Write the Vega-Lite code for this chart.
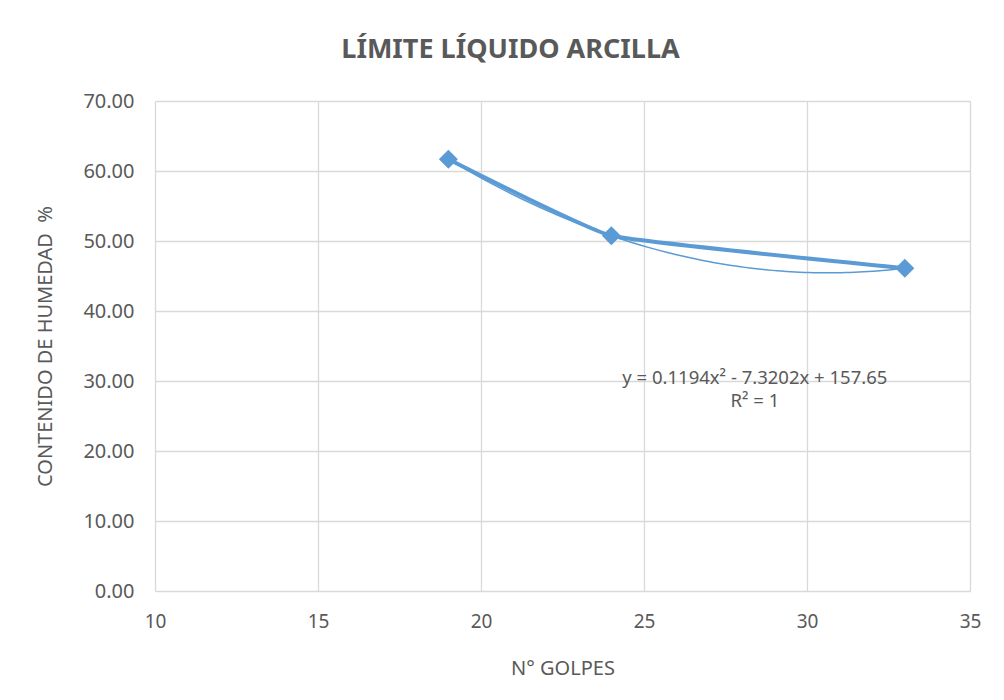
{
  "$schema": "https://vega.github.io/schema/vega-lite/v6.json",
  "autosize": {"type": "none"},
  "width": 815,
  "height": 490,
  "padding": {"left": 155, "top": 101, "right": 34, "bottom": 109},
  "background": "white",
  "title": {
    "text": "LÍMITE LÍQUIDO ARCILLA",
    "font": "Noto Sans",
    "fontSize": 27,
    "fontWeight": "bold",
    "color": "#595959",
    "anchor": "middle",
    "dx": -52,
    "offset": 27
  },
  "config": {
    "view": {"stroke": null},
    "axis": {
      "labelFont": "Noto Sans",
      "titleFont": "Noto Sans",
      "labelColor": "#595959",
      "titleColor": "#595959",
      "labelFontSize": 19,
      "titleFontSize": 20,
      "titleFontWeight": "normal",
      "gridColor": "#d9d9d9",
      "gridWidth": 1.3,
      "ticks": false,
      "domain": false
    }
  },
  "data": {
    "values": [
      {"n": 19, "h": 61.67},
      {"n": 24, "h": 50.74},
      {"n": 33, "h": 46.11}
    ]
  },
  "layer": [
    {
      "transform": [
        {"regression": "h", "on": "n", "method": "poly", "order": 2, "extent": [19, 33]}
      ],
      "mark": {"type": "line", "color": "#5B9BD5", "strokeWidth": 1.5},
      "encoding": {
        "x": {"field": "n", "type": "quantitative"},
        "y": {"field": "h", "type": "quantitative"}
      }
    },
    {
      "mark": {"type": "line", "color": "#5B9BD5", "strokeWidth": 4, "interpolate": "cardinal", "tension": 0.7},
      "encoding": {
        "x": {
          "field": "n",
          "type": "quantitative",
          "scale": {"domain": [10, 35], "nice": false},
          "axis": {"values": [10, 15, 20, 25, 30, 35], "title": "N° GOLPES", "labelPadding": 21, "titlePadding": 27, "labelFlush": false}
        },
        "y": {
          "field": "h",
          "type": "quantitative",
          "scale": {"domain": [0, 70], "nice": false},
          "axis": {"values": [0, 10, 20, 30, 40, 50, 60, 70], "format": ".2f", "title": "CONTENIDO DE HUMEDAD\u00a0 %", "labelPadding": 21, "labelFontSize": 20, "titleX": -110, "titleY": 245, "titleAnchor": "middle", "titleAngle": -90, "titleBaseline": "middle"}
        }
      }
    },
    {
      "mark": {"type": "point", "shape": "diamond", "filled": true, "opacity": 1, "color": "#5B9BD5", "size": 360},
      "encoding": {
        "x": {"field": "n", "type": "quantitative"},
        "y": {"field": "h", "type": "quantitative"}
      }
    },
    {
      "data": {"values": [{"x": 28.4, "y": 30.4, "t": ["y = 0.1194x² - 7.3202x + 157.65", "R² = 1"]}]},
      "mark": {"type": "text", "font": "Noto Sans", "fontSize": 18.5, "color": "#595959", "align": "center", "baseline": "middle", "lineHeight": 23},
      "encoding": {
        "x": {"field": "x", "type": "quantitative"},
        "y": {"field": "y", "type": "quantitative"},
        "text": {"field": "t"}
      }
    }
  ]
}
